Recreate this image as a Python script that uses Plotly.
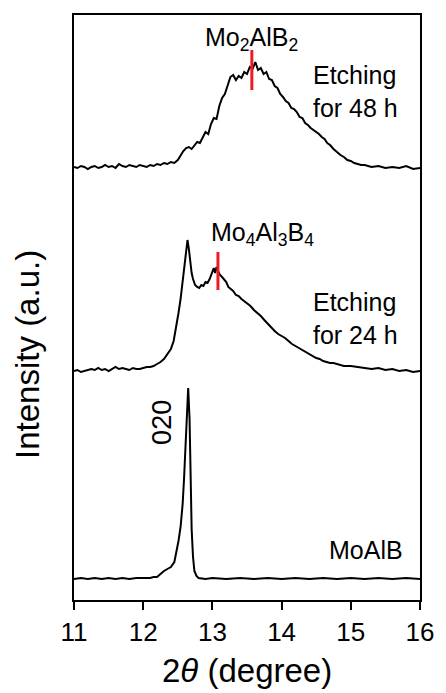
import numpy as np
import plotly.graph_objects as go

# ---------------- data ----------------
# 48 h etched pattern (height above its own baseline)
x48 = [11.00, 11.05, 11.10, 11.15, 11.20, 11.25, 11.30, 11.35, 11.40, 11.45, 11.50, 11.55,
       11.60, 11.65, 11.70, 11.75, 11.80, 11.85, 11.90, 11.95, 12.00, 12.05, 12.10, 12.15,
       12.20, 12.25, 12.30, 12.35, 12.40, 12.45, 12.50, 12.55, 12.58, 12.62, 12.66, 12.70,
       12.74, 12.78, 12.82, 12.86, 12.90, 12.94, 12.98, 13.02, 13.06, 13.10, 13.14, 13.18,
       13.22, 13.26, 13.30, 13.34, 13.38, 13.42, 13.46, 13.50, 13.54, 13.58, 13.62, 13.66,
       13.70, 13.74, 13.78, 13.82, 13.86, 13.90, 13.94, 13.98, 14.02, 14.06, 14.10, 14.14,
       14.18, 14.22, 14.26, 14.30, 14.34, 14.38, 14.42, 14.46, 14.50, 14.54, 14.58, 14.62,
       14.66, 14.70, 14.75, 14.80, 14.85, 14.90, 14.95, 15.00, 15.05, 15.10, 15.15, 15.20,
       15.30, 15.40, 15.50, 15.60, 15.70, 15.80, 15.90, 16.00]
i48 = [1, 0, 2, 1, -1, 1, 2, 0, 1, 3, 1, 2,
       0, 4, 2, 1, 3, 2, 1, 3, 2, 1, 3, 2,
       4, 3, 5, 4, 6, 5, 8, 14, 17, 20, 21, 19,
       22, 26, 25, 30, 36, 34, 44, 50, 49, 62, 70, 74,
       82, 91, 93, 88, 92, 90, 96, 94, 101, 99, 106, 98,
       100, 94, 96, 89, 88, 82, 80, 74, 71, 67, 65, 60,
       59, 56, 51, 50, 45, 43, 40, 38, 36, 34, 31, 29,
       25, 23, 19, 16, 13, 11, 8, 7, 5, 4, 3, 3,
       1, 2, 0, 1, 0, 2, -1, 0]

# 24 h etched pattern
x24 = [11.00, 11.05, 11.10, 11.15, 11.20, 11.25, 11.30, 11.35, 11.40, 11.45, 11.50, 11.55,
       11.60, 11.65, 11.70, 11.75, 11.80, 11.85, 11.90, 11.95, 12.00, 12.05, 12.10, 12.15,
       12.20, 12.25, 12.30, 12.35, 12.40, 12.44, 12.48, 12.51, 12.54, 12.57, 12.60, 12.62,
       12.64, 12.66, 12.68, 12.70, 12.72, 12.75, 12.78, 12.81, 12.84, 12.87, 12.90, 12.93,
       12.96, 12.99, 13.02, 13.04, 13.06, 13.08, 13.11, 13.14, 13.17, 13.20, 13.23, 13.26,
       13.30, 13.34, 13.38, 13.42, 13.46, 13.50, 13.55, 13.60, 13.65, 13.70, 13.75, 13.80,
       13.85, 13.90, 13.95, 14.00, 14.05, 14.10, 14.15, 14.20, 14.25, 14.30, 14.35, 14.40,
       14.45, 14.50, 14.55, 14.60, 14.65, 14.70, 14.75, 14.80, 14.90, 15.00, 15.10, 15.20,
       15.30, 15.40, 15.50, 15.60, 15.70, 15.80, 15.90, 16.00]
i24 = [0, 1, -1, 0, 1, 2, 1, 3, 1, 2, 0, 2,
       4, 2, 3, 2, 1, 3, 2, 2, 3, 4, 4, 5,
       7, 9, 12, 17, 22, 30, 44, 58, 72, 88, 104, 118,
       131, 122, 108, 98, 92, 86, 84, 83, 86, 85, 89, 88,
       92, 97, 103, 98, 104, 100, 96, 94, 91, 89, 84, 82,
       80, 76, 75, 72, 70, 68, 65, 61, 58, 55, 51, 47,
       44, 40, 37, 35, 33, 30, 27, 25, 23, 21, 19, 17,
       15, 13, 12, 10, 9, 8, 8, 7, 5, 5, 4, 3,
       2, 3, 1, 2, 0, 1, -1, 0]

# pristine MoAlB pattern
x0 = [11.00, 11.10, 11.20, 11.30, 11.40, 11.50, 11.60, 11.70, 11.80, 11.90, 12.00, 12.10,
      12.15, 12.20, 12.25, 12.30, 12.35, 12.40, 12.45, 12.48, 12.51, 12.54, 12.57, 12.59,
      12.61, 12.63, 12.65, 12.67, 12.68, 12.69, 12.70, 12.72, 12.74, 12.77, 12.80, 12.90,
      13.00, 13.20, 13.40, 13.60, 13.80, 14.00, 14.20, 14.40, 14.60, 14.80, 15.00, 15.20,
      15.40, 15.60, 15.80, 16.00]
i0 = [0, 1, 0, 1, 0, 1, 0, 1, 0, 1, 1, 1,
      2, 2, 5, 8, 10, 12, 17, 27, 38, 52, 75, 100,
      135, 170, 191, 160, 120, 80, 50, 22, 8, 3, 1, 0,
      1, 0, 1, 0, 1, 0, 1, 0, 1, 0, 1, 0,
      1, 0, 1, 0]

# vertical offsets of the stacked patterns
offsets = {"48h": 432, "24h": 229, "MoAlB": 21}

# reference peak markers
marker_x = [13.57, 13.08]
marker_y0 = [510, 310]
marker_y1 = [550, 348]

tick_vals = [11, 12, 13, 14, 15, 16]

FONT = "Liberation Sans, Arial, sans-serif"
fig = go.Figure()

for xs, ys, key in [(x48, i48, "48h"), (x24, i24, "24h"), (x0, i0, "MoAlB")]:
    fig.add_trace(go.Scatter(
        x=xs, y=np.array(ys) + offsets[key], mode="lines",
        line=dict(color="black", width=2), showlegend=False, hoverinfo="skip"))

for mx, y0, y1 in zip(marker_x, marker_y0, marker_y1):
    fig.add_trace(go.Scatter(
        x=[mx, mx], y=[y0, y1], mode="lines",
        line=dict(color="#ed1c24", width=3), showlegend=False, hoverinfo="skip"))

ann = []
txt = dict(family=FONT, size=25, color="black")
ann.append(dict(x=13.56, y=561, text="Mo<sub>2</sub>AlB<sub>2</sub>", showarrow=False,
                xanchor="center", yanchor="middle", font=txt))
ann.append(dict(x=14.43, y=509, text="Etching<br>for 48 h", showarrow=False,
                xanchor="left", yanchor="middle", align="left", font=txt))
ann.append(dict(x=13.72, y=366, text="Mo<sub>4</sub>Al<sub>3</sub>B<sub>4</sub>", showarrow=False,
                xanchor="center", yanchor="middle", font=txt))
ann.append(dict(x=14.43, y=282, text="Etching<br>for 24 h", showarrow=False,
                xanchor="left", yanchor="middle", align="left", font=txt))
ann.append(dict(x=12.27, y=178, text="020", showarrow=False, textangle=-90,
                xanchor="center", yanchor="middle", font=dict(family=FONT, size=27, color="black")))
ann.append(dict(x=15.78, y=50, text="MoAlB", showarrow=False,
                xanchor="right", yanchor="middle", font=txt))
ann.append(dict(xref="paper", yref="paper", x=-0.134, y=0.42, text="Intensity (a.u.)",
                showarrow=False, textangle=-90, xanchor="center", yanchor="middle",
                font=dict(family=FONT, size=33, color="black")))
ann.append(dict(xref="paper", yref="paper", x=0.5, y=-0.12, text="2<i>θ</i> (degree)",
                showarrow=False, xanchor="center", yanchor="middle",
                font=dict(family=FONT, size=33, color="black")))

fig.update_layout(
    width=446, height=693,
    margin=dict(l=74, r=20, t=15, b=93),
    paper_bgcolor="white", plot_bgcolor="white",
    annotations=ann,
    xaxis=dict(range=[11, 16], tickvals=tick_vals, ticktext=[str(v) for v in tick_vals],
               showline=True, mirror=True, linecolor="black", linewidth=2,
               ticks="outside", ticklen=8, tickwidth=2, tickcolor="black",
               tickfont=dict(family=FONT, size=26, color="black"),
               showgrid=False, zeroline=False),
    yaxis=dict(range=[0, 585], showline=True, mirror=True, linecolor="black", linewidth=2,
               showticklabels=False, ticks="", showgrid=False, zeroline=False),
)

fig.write_html("out.html", config={"displayModeBar": False},
               post_script="document.body.style.margin='0';document.body.style.overflow='hidden';")
